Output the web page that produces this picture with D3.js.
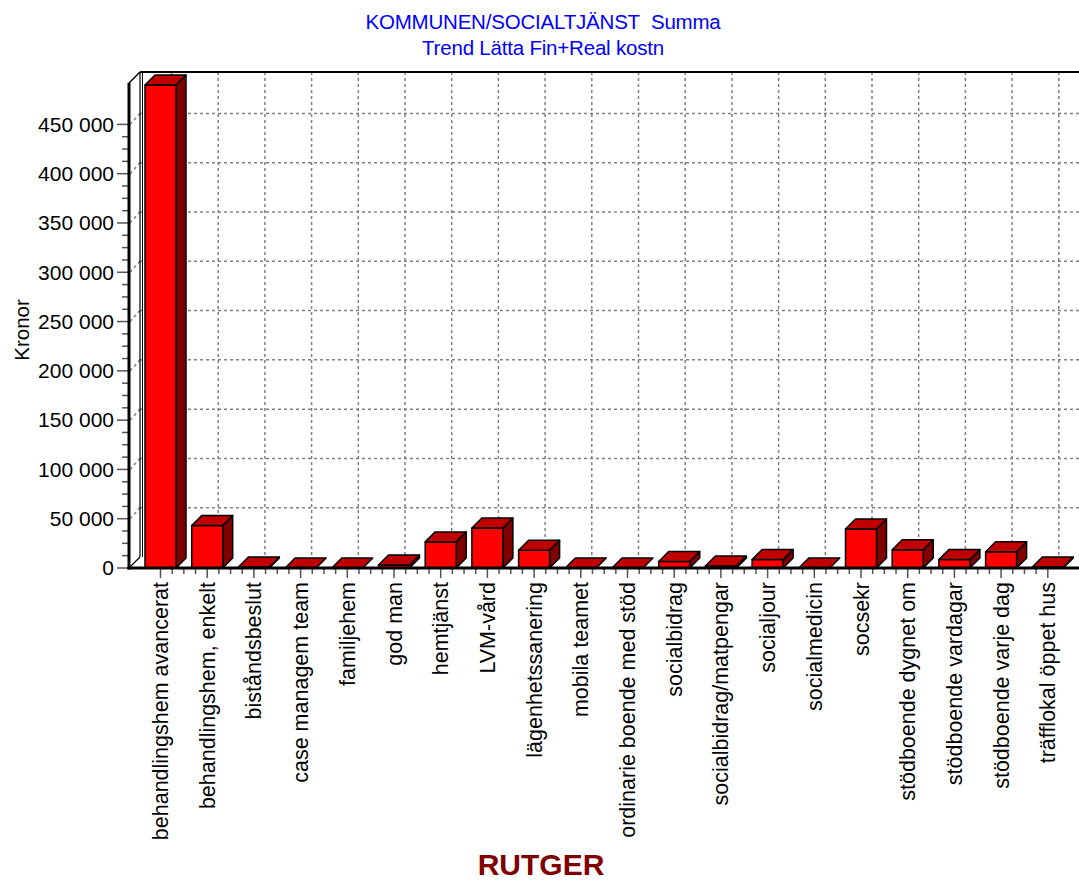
<!DOCTYPE html>
<html>
<head>
<meta charset="utf-8">
<script src="https://cdn.jsdelivr.net/npm/d3@7"></script>
<style>
  html, body { margin: 0; padding: 0; background: #fff; }
  svg { display: block; font-family: "Liberation Sans", Arial, sans-serif; }
</style>
</head>
<body>
<svg id="chart" width="1079" height="884"></svg>
<script>
// Cost per activity (kronor)
const categories = [
  "behandlingshem avancerat", "behandlingshem, enkelt", "biståndsbeslut",
  "case managem team", "familjehem", "god man", "hemtjänst", "LVM-vård",
  "lägenhetssanering", "mobila teamet", "ordinarie boende med stöd",
  "socialbidrag", "socialbidrag/matpengar", "socialjour", "socialmedicin",
  "socsekr", "stödboende dygnet om", "stödboende vardagar",
  "stödboende varje dag", "träfflokal öppet hus"
];
const values = [
  490000, 43000, 1000, 0, 0, 3000, 26500, 40500, 18000, 0, 0,
  6500, 2000, 8500, 0, 39500, 18500, 8500, 16500, 1000
];
const yTicks = [0, 50000, 100000, 150000, 200000, 250000, 300000, 350000, 400000, 450000];
const titleLines = ["KOMMUNEN/SOCIALTJÄNST\u00a0\u00a0Summa", "Trend Lätta Fin+Real kostn"];
const yTitle = "Kronor";
const xTitle = "RUTGER";

const svg = d3.select("#chart");
const W = 1079;

// 3D geometry: wall depth and bar depth offsets
const wallD = 11;
const barD = 10;
const barW = 31;

const y = d3.scaleLinear().domain([0, 492000]).range([568, 83]);
const x = d3.scalePoint().domain(categories).range([160.5, 1047.8]);
const step = x.step();
const axisX = 129;
const y0 = y(0);

const fmt = v => d3.format(",")(v).replace(/,/g, " ");

// Titles
svg.selectAll("text.title").data(titleLines).join("text")
  .attr("class", "title")
  .attr("x", 543).attr("y", (d, i) => 29 + i * 26)
  .attr("text-anchor", "middle")
  .attr("font-size", 20.5)
  .attr("letter-spacing", -0.2)
  .attr("fill", "#0000ff")
  .text(d => d);

// Back wall grid: horizontal dashed lines plus their slant on the side wall
const grid = svg.append("g").attr("stroke", "#808080").attr("stroke-width", 1.5)
  .attr("stroke-dasharray", "3,3").attr("fill", "none");
yTicks.filter(v => v > 0).forEach(v => {
  grid.append("line").attr("x1", axisX + wallD).attr("x2", W)
    .attr("y1", y(v) - wallD).attr("y2", y(v) - wallD);
  grid.append("line").attr("x1", axisX + 1).attr("x2", axisX + wallD)
    .attr("y1", y(v)).attr("y2", y(v) - wallD);
});
// Vertical dashed lines at category positions on the back wall
categories.forEach(c => {
  grid.append("line").attr("x1", x(c) + wallD).attr("x2", x(c) + wallD)
    .attr("y1", y.range()[1] - wallD).attr("y2", y0 - wallD);
});

// Side wall and top border
const frame = svg.append("g").attr("stroke", "#000").attr("fill", "none");
frame.append("line").attr("x1", axisX + wallD).attr("x2", axisX + wallD)
  .attr("y1", y.range()[1] - wallD).attr("y2", y0 - wallD).attr("stroke-width", 1.2);
frame.append("line").attr("x1", axisX + wallD + 2.5).attr("x2", axisX + wallD + 2.5)
  .attr("y1", y.range()[1] - wallD).attr("y2", y0 - wallD).attr("stroke-width", 1);
frame.append("line").attr("x1", axisX).attr("x2", axisX + wallD)
  .attr("y1", y.range()[1]).attr("y2", y.range()[1] - wallD).attr("stroke-width", 1.5);
frame.append("line").attr("x1", axisX).attr("x2", axisX + wallD)
  .attr("y1", y0).attr("y2", y0 - wallD).attr("stroke-width", 1.2);
frame.append("line").attr("x1", axisX + wallD).attr("x2", W)
  .attr("y1", y.range()[1] - wallD).attr("y2", y.range()[1] - wallD).attr("stroke-width", 2.2);

// Bars: front face, top face, side face
const bars = svg.append("g").attr("stroke", "#000").attr("stroke-width", 1.5)
  .attr("stroke-linejoin", "round");
categories.forEach((c, i) => {
  const v = values[i];
  const x0 = x(c) - barW / 2, x1 = x(c) + barW / 2;
  const yt = y(v);
  const g = bars.append("g");
  if (v > 0) {
    g.append("path").attr("fill", "#800000")
      .attr("d", `M${x1},${yt}L${x1 + barD},${yt - barD}L${x1 + barD},${y0 - barD}L${x1},${y0}Z`);
    g.append("rect").attr("fill", "#ff0000")
      .attr("x", x0).attr("y", yt).attr("width", barW).attr("height", y0 - yt);
  }
  g.append("path").attr("fill", "#c00000")
    .attr("d", `M${x0},${yt}L${x0 + barD},${yt - barD}L${x1 + barD},${yt - barD}L${x1},${yt}Z`);
});

// Y axis ticks (major + minor)
const yAxis = svg.append("g").attr("stroke", "#555").attr("stroke-width", 1.5);
yTicks.forEach((v, i) => {
  yAxis.append("line").attr("x1", axisX - 12).attr("x2", axisX).attr("y1", y(v)).attr("y2", y(v));
  if (i < yTicks.length - 1) {
    for (let k = 1; k < 4; k++) {
      const yy = y(v + k * 12500);
      yAxis.append("line").attr("x1", axisX - 7).attr("x2", axisX).attr("y1", yy).attr("y2", yy);
    }
  }
});
svg.append("g").selectAll("text").data(yTicks).join("text")
  .attr("x", 114).attr("y", d => y(d)).attr("dy", "0.35em")
  .attr("text-anchor", "end").attr("font-size", 21).attr("fill", "#000")
  .text(d => fmt(d));

// X axis ticks (major at categories, three minor between)
const xAxis = svg.append("g").attr("stroke", "#555").attr("stroke-width", 1.5);
categories.forEach((c, i) => {
  xAxis.append("line").attr("x1", x(c)).attr("x2", x(c)).attr("y1", y0).attr("y2", y0 + 10);
  if (i < categories.length - 1) {
    for (let k = 1; k < 4; k++) {
      const xx = x(c) + k * step / 4;
      xAxis.append("line").attr("x1", xx).attr("x2", xx).attr("y1", y0).attr("y2", y0 + 6);
    }
  }
});

// Front axis lines
svg.append("line").attr("x1", axisX).attr("x2", axisX)
  .attr("y1", y.range()[1]).attr("y2", y0 + 1.5)
  .attr("stroke", "#000").attr("stroke-width", 3);
svg.append("line").attr("x1", axisX - 1.5).attr("x2", W)
  .attr("y1", y0).attr("y2", y0)
  .attr("stroke", "#000").attr("stroke-width", 3);

// Category labels, rotated
svg.append("g").selectAll("text").data(categories).join("text")
  .attr("transform", d => `translate(${x(d) + 7.5},${y0 + 14}) rotate(-90)`)
  .attr("text-anchor", "end").attr("font-size", 21.5).attr("fill", "#000")
  .text(d => d);

// Axis titles
svg.append("text")
  .attr("transform", `translate(29,330) rotate(-90)`)
  .attr("text-anchor", "middle").attr("font-size", 20.5).attr("fill", "#000")
  .text(yTitle);
svg.append("text")
  .attr("x", 541).attr("y", 875)
  .attr("text-anchor", "middle").attr("font-size", 30).attr("font-weight", "bold")
  .attr("fill", "#800000")
  .text(xTitle);
</script>
</body>
</html>
